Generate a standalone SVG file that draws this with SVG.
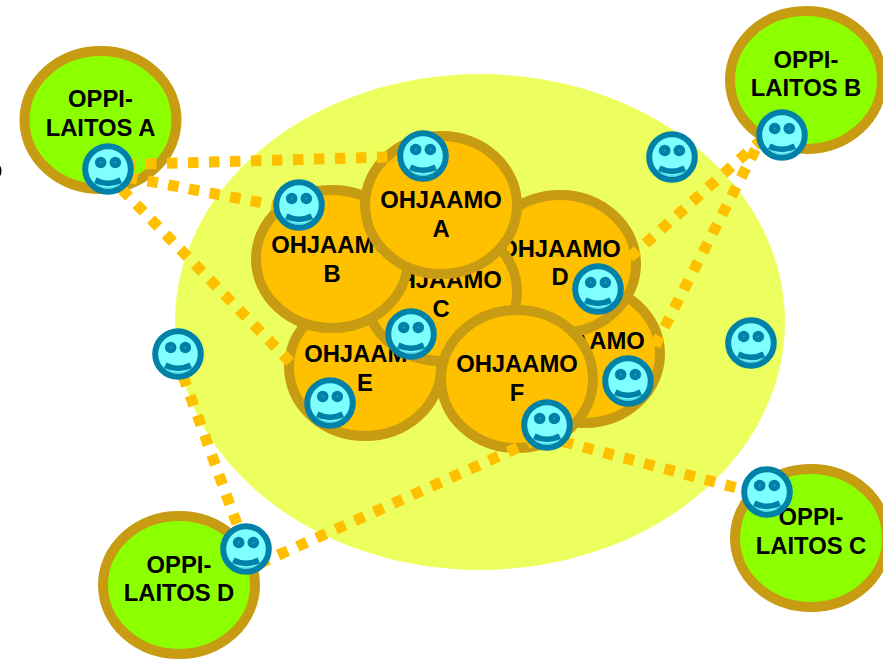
<svg xmlns="http://www.w3.org/2000/svg" width="883" height="660" viewBox="0 0 883 660">
<style>
.n{stroke:#c79c12;stroke-width:10}
.g{fill:#8cff00}
.o{fill:#ffc000}
text{font-family:"Liberation Sans",Arial,sans-serif;font-weight:700;font-size:23.8px;fill:#000;text-anchor:middle}
.c{fill:none;stroke:#ffc000;stroke-width:11;stroke-dasharray:10.5 10.5}
</style>
<defs>
<g id="smiley">
<circle r="22.8" fill="#7fffff" stroke="#0081a8" stroke-width="6"/>
<circle cx="-7.300" cy="-6.500" r="5.800" fill="#0081a8"/>
<circle cx="7.300" cy="-6.500" r="5.800" fill="#0081a8"/>
<circle cx="-7.300" cy="-6.500" r="1" fill="#30a0c0"/>
<circle cx="7.300" cy="-6.500" r="1" fill="#30a0c0"/>
<path d="M-11.500 8.500Q0 14.500 11.500 8.500L14 14Q0 20.500 -14 14Z" fill="#0081a8"/>
<path d="M-14 14.500Q0 23.500 14 14.500" fill="none" stroke="#0081a8" stroke-width=".7" stroke-opacity=".5"/>
</g>
</defs>
<rect width="883" height="660" fill="#fff"/>
<ellipse id="area" cx="480" cy="322" rx="305" ry="248" fill="#ecff5f"/>
<ellipse cx="-3" cy="171" rx="4.500" ry="7" fill="#000"/>
<g id="oppilaitos-a"><ellipse class="n g" cx="100.500" cy="120" rx="76" ry="69"/><text x="100.500" y="107">OPPI-</text><text x="100.500" y="136">LAITOS A</text></g>
<g id="oppilaitos-b"><ellipse class="n g" cx="806" cy="80" rx="76" ry="69"/><text x="806" y="68">OPPI-</text><text x="806" y="96">LAITOS B</text></g>
<g id="oppilaitos-c"><ellipse class="n g" cx="811" cy="538" rx="76" ry="69"/><text x="811" y="525">OPPI-</text><text x="811" y="554">LAITOS C</text></g>
<g id="oppilaitos-d"><ellipse class="n g" cx="179" cy="585" rx="76" ry="69"/><text x="179" y="573">OPPI-</text><text x="179" y="601">LAITOS D</text></g>
<g id="ohjaamo-g"><ellipse class="n o" cx="584" cy="354" rx="76" ry="69"/><text x="584" y="349">OHJAAMO</text></g>
<g id="ohjaamo-d"><ellipse class="n o" cx="560" cy="264" rx="76" ry="69"/><text x="560" y="257">OHJAAMO</text><text x="560" y="285">D</text></g>
<g id="ohjaamo-e"><ellipse class="n o" cx="365" cy="367" rx="76" ry="69"/><text x="365" y="362">OHJAAMO</text><text x="365" y="391">E</text></g>
<g id="ohjaamo-c"><ellipse class="n o" cx="441" cy="292" rx="76" ry="69"/><text x="441" y="288">OHJAAMO</text><text x="441" y="317">C</text></g>
<g id="ohjaamo-b"><ellipse class="n o" cx="332" cy="259" rx="76" ry="69"/><text x="332" y="253">OHJAAMO</text><text x="332" y="282">B</text></g>
<g id="ohjaamo-a"><ellipse class="n o" cx="441" cy="205" rx="76" ry="69"/><text x="441" y="208">OHJAAMO</text><text x="441" y="237">A</text></g>
<g id="ohjaamo-f"><ellipse class="n o" cx="517" cy="379" rx="76" ry="69"/><text x="517" y="372">OHJAAMO</text><text x="517" y="401">F</text></g>
<g id="connectors">
<path class="c" d="M125 164.500L423 156"/>
<path class="c" d="M127 177L299 210"/>
<path class="c" d="M121.700 189.200L291 363"/>
<path class="c" d="M762.800 138.600L628 259"/>
<path class="c" d="M765 130.700L654.600 346.700"/>
<path class="c" d="M183 376L246 549"/>
<path class="c" d="M259 563.700L535 440"/>
<path class="c" d="M563 441.600L767 496"/>
</g>
<g id="smiley-1"><use href="#smiley" x="108" y="169"/></g>
<g id="smiley-2"><use href="#smiley" x="299" y="205"/></g>
<g id="smiley-3"><use href="#smiley" x="423" y="156"/></g>
<g id="smiley-4"><use href="#smiley" x="672" y="157"/></g>
<g id="smiley-5"><use href="#smiley" x="782" y="135"/></g>
<g id="smiley-6"><use href="#smiley" x="598" y="289"/></g>
<g id="smiley-7"><use href="#smiley" x="411" y="334"/></g>
<g id="smiley-8"><use href="#smiley" x="330" y="403"/></g>
<g id="smiley-9"><use href="#smiley" x="628" y="381"/></g>
<g id="smiley-10"><use href="#smiley" x="547" y="425"/></g>
<g id="smiley-11"><use href="#smiley" x="751" y="343"/></g>
<g id="smiley-12"><use href="#smiley" x="178" y="354"/></g>
<g id="smiley-13"><use href="#smiley" x="246" y="549"/></g>
<g id="smiley-14"><use href="#smiley" x="767" y="492"/></g>
</svg>
